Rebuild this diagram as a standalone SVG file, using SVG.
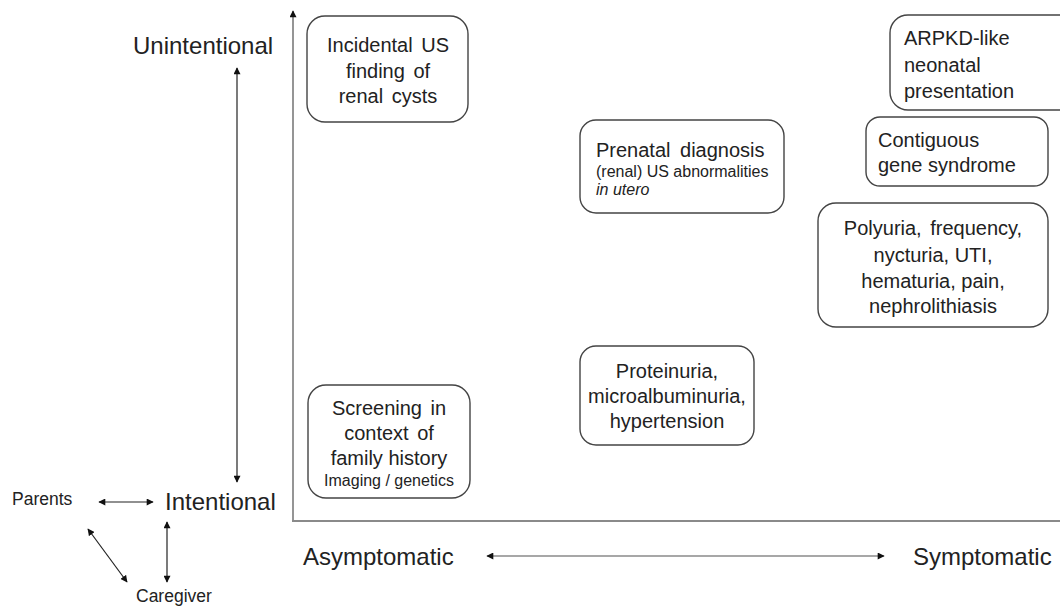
<svg xmlns="http://www.w3.org/2000/svg" width="1060" height="610" viewBox="0 0 1060 610">
<defs>
<marker id="ahs" viewBox="0 0 10 10" refX="9" refY="5" markerWidth="7.5" markerHeight="7" orient="auto-start-reverse" markerUnits="userSpaceOnUse">
<path d="M0,0 L10,5 L0,10 z" fill="#111"/>
</marker>
</defs>
<style>
text{font-family:"Liberation Sans",Arial,sans-serif;fill:#222}
.box{fill:#fff;stroke:#444;stroke-width:1.4}
.b{font-size:20px}
.s{font-size:16px}
.lab{font-size:24px}
.sm{font-size:17.5px}
.c{text-anchor:middle}
.axis{stroke:#8a8a8a;stroke-width:1.8;fill:none}
.arr{stroke:#222;stroke-width:1.2;fill:none}
.harr{stroke:#8a8a8a;stroke-width:1.6;fill:none}
</style>
<rect width="1060" height="610" fill="#fff"/>
<g id="connectors">
<line class="axis" x1="293" y1="522" x2="293" y2="11" marker-end="url(#ahs)"/>
<line class="axis" x1="292" y1="521" x2="1060" y2="521"/>
<line class="arr" x1="237" y1="482" x2="237" y2="68" marker-start="url(#ahs)" marker-end="url(#ahs)"/>
<line class="arr" x1="99" y1="502" x2="153" y2="502" marker-start="url(#ahs)" marker-end="url(#ahs)"/>
<line class="arr" x1="88" y1="529" x2="127" y2="582" marker-start="url(#ahs)" marker-end="url(#ahs)"/>
<line class="arr" x1="167" y1="522" x2="167" y2="582" marker-start="url(#ahs)" marker-end="url(#ahs)"/>
<line class="harr" x1="487" y1="556" x2="884" y2="556" marker-start="url(#ahs)" marker-end="url(#ahs)"/>
</g>
<g id="labels">
<text class="lab" x="133" y="54">Unintentional</text>
<text class="lab" x="165" y="510">Intentional</text>
<text class="sm" x="12" y="505">Parents</text>
<text class="sm" x="136" y="602">Caregiver</text>
<text class="lab" x="303" y="565">Asymptomatic</text>
<text class="lab" x="913" y="565">Symptomatic</text>
</g>
<g id="incidental">
<rect class="box" x="307" y="16" width="161" height="106" rx="18"/>
<text class="b c" x="388" y="52" word-spacing="3">Incidental US</text>
<text class="b c" x="388" y="78" word-spacing="3">finding of</text>
<text class="b c" x="388" y="103" word-spacing="3">renal cysts</text>
</g>
<g id="prenatal">
<rect class="box" x="580" y="120" width="204" height="93" rx="16"/>
<text class="b" x="596" y="157" word-spacing="4">Prenatal diagnosis</text>
<text class="s" x="596" y="177">(renal) US abnormalities</text>
<text class="s" x="596" y="195" font-style="italic">in utero</text>
</g>
<g id="arpkd">
<rect class="box" x="890" y="15" width="190" height="95" rx="18"/>
<text class="b" x="904" y="45">ARPKD-like</text>
<text class="b" x="904" y="72">neonatal</text>
<text class="b" x="904" y="98">presentation</text>
</g>
<g id="contiguous">
<rect class="box" x="866" y="117" width="182" height="69" rx="14"/>
<text class="b" x="878" y="147">Contiguous</text>
<text class="b" x="878" y="172">gene syndrome</text>
</g>
<g id="polyuria">
<rect class="box" x="818" y="203" width="230" height="124" rx="18"/>
<text class="b c" x="933" y="235" word-spacing="3">Polyuria, frequency,</text>
<text class="b c" x="933" y="262">nycturia, UTI,</text>
<text class="b c" x="933" y="288">hematuria, pain,</text>
<text class="b c" x="933" y="313">nephrolithiasis</text>
</g>
<g id="proteinuria">
<rect class="box" x="580" y="346" width="174" height="99" rx="16"/>
<text class="b c" x="667" y="378">Proteinuria,</text>
<text class="b c" x="667" y="403">microalbuminuria,</text>
<text class="b c" x="667" y="428">hypertension</text>
</g>
<g id="screening">
<rect class="box" x="308" y="385" width="162" height="113" rx="18"/>
<text class="b c" x="389" y="415" word-spacing="3">Screening in</text>
<text class="b c" x="389" y="440" word-spacing="3">context of</text>
<text class="b c" x="389" y="465">family history</text>
<text class="s c" x="389" y="486">Imaging / genetics</text>
</g>
</svg>
